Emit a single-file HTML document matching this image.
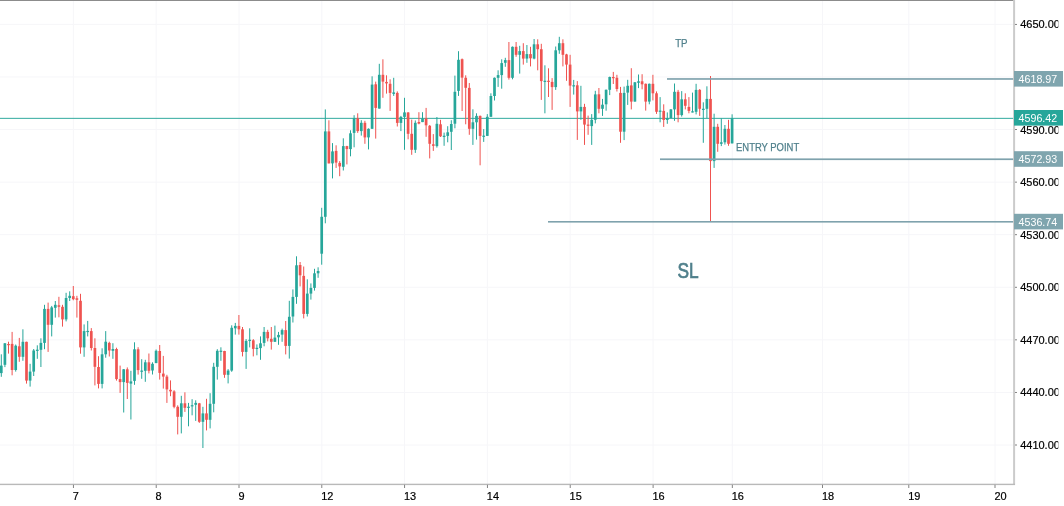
<!DOCTYPE html>
<html><head><meta charset="utf-8"><title>Chart</title>
<style>
html,body{margin:0;padding:0;background:#fff;}
body{width:1064px;height:506px;overflow:hidden;font-family:"Liberation Sans",sans-serif;}
svg{display:block;}
text{font-family:"Liberation Sans",sans-serif;}
</style></head><body>
<svg width="1064" height="506" viewBox="0 0 1064 506">
<defs><clipPath id="axclip"><rect x="1014" y="0" width="44.3" height="506"/></clipPath></defs>
<rect x="0" y="0" width="1064" height="506" fill="#ffffff"/>
<g stroke="#f6f6f9" stroke-width="1">
<line x1="0" x2="1013" y1="24.40" y2="24.40"/>
<line x1="0" x2="1013" y1="76.97" y2="76.97"/>
<line x1="0" x2="1013" y1="129.55" y2="129.55"/>
<line x1="0" x2="1013" y1="182.13" y2="182.13"/>
<line x1="0" x2="1013" y1="234.70" y2="234.70"/>
<line x1="0" x2="1013" y1="287.27" y2="287.27"/>
<line x1="0" x2="1013" y1="339.85" y2="339.85"/>
<line x1="0" x2="1013" y1="392.43" y2="392.43"/>
<line x1="0" x2="1013" y1="445.00" y2="445.00"/>
<line x1="73.40" x2="73.40" y1="1" y2="484"/>
<line x1="156.20" x2="156.20" y1="1" y2="484"/>
<line x1="239.00" x2="239.00" y1="1" y2="484"/>
<line x1="321.80" x2="321.80" y1="1" y2="484"/>
<line x1="404.60" x2="404.60" y1="1" y2="484"/>
<line x1="487.40" x2="487.40" y1="1" y2="484"/>
<line x1="570.20" x2="570.20" y1="1" y2="484"/>
<line x1="653.10" x2="653.10" y1="1" y2="484"/>
<line x1="732.30" x2="732.30" y1="1" y2="484"/>
<line x1="822.50" x2="822.50" y1="1" y2="484"/>
<line x1="908.80" x2="908.80" y1="1" y2="484"/>
<line x1="995.00" x2="995.00" y1="1" y2="484"/>
</g>
<rect x="0" y="117.85" width="1014" height="0.95" fill="#26a69a"/>
<g>
<rect x="0.80" y="354.30" width="1.00" height="22.50" fill="#26a69a"/><rect x="-0.05" y="365.60" width="2.70" height="7.50" fill="#26a69a"/>
<rect x="4.40" y="343.00" width="1.00" height="24.10" fill="#26a69a"/><rect x="3.55" y="343.30" width="2.70" height="21.50" fill="#26a69a"/>
<rect x="8.00" y="341.70" width="1.00" height="11.90" fill="#ef5350"/><rect x="7.15" y="344.00" width="2.70" height="1.20" fill="#ef5350"/>
<rect x="11.60" y="331.90" width="1.00" height="43.40" fill="#ef5350"/><rect x="10.75" y="343.90" width="2.70" height="26.10" fill="#ef5350"/>
<rect x="15.20" y="344.50" width="1.00" height="27.10" fill="#26a69a"/><rect x="14.35" y="345.70" width="2.70" height="24.30" fill="#26a69a"/>
<rect x="18.80" y="337.90" width="1.00" height="23.90" fill="#ef5350"/><rect x="17.95" y="346.30" width="2.70" height="10.50" fill="#ef5350"/>
<rect x="22.40" y="329.30" width="1.00" height="31.50" fill="#26a69a"/><rect x="21.55" y="341.80" width="2.70" height="15.00" fill="#26a69a"/>
<rect x="26.00" y="341.70" width="1.00" height="41.90" fill="#ef5350"/><rect x="25.15" y="341.80" width="2.70" height="38.80" fill="#ef5350"/>
<rect x="29.60" y="363.80" width="1.00" height="22.80" fill="#26a69a"/><rect x="28.75" y="371.60" width="2.70" height="9.00" fill="#26a69a"/>
<rect x="33.20" y="349.00" width="1.00" height="27.00" fill="#26a69a"/><rect x="32.35" y="350.50" width="2.70" height="21.10" fill="#26a69a"/>
<rect x="36.80" y="345.30" width="1.00" height="13.50" fill="#26a69a"/><rect x="35.95" y="349.70" width="2.70" height="1.20" fill="#26a69a"/>
<rect x="40.40" y="338.30" width="1.00" height="28.70" fill="#26a69a"/><rect x="39.55" y="342.90" width="2.70" height="6.90" fill="#26a69a"/>
<rect x="44.00" y="304.80" width="1.00" height="44.40" fill="#26a69a"/><rect x="43.15" y="308.90" width="2.70" height="34.00" fill="#26a69a"/>
<rect x="47.60" y="302.60" width="1.00" height="49.30" fill="#ef5350"/><rect x="46.75" y="308.90" width="2.70" height="15.90" fill="#ef5350"/>
<rect x="51.20" y="305.90" width="1.00" height="30.50" fill="#26a69a"/><rect x="50.35" y="307.40" width="2.70" height="17.40" fill="#26a69a"/>
<rect x="54.80" y="301.00" width="1.00" height="16.60" fill="#26a69a"/><rect x="53.95" y="304.80" width="2.70" height="3.00" fill="#26a69a"/>
<rect x="58.40" y="296.80" width="1.00" height="20.50" fill="#ef5350"/><rect x="57.55" y="305.30" width="2.70" height="1.50" fill="#ef5350"/>
<rect x="62.00" y="304.80" width="1.00" height="21.80" fill="#ef5350"/><rect x="61.15" y="306.80" width="2.70" height="12.60" fill="#ef5350"/>
<rect x="65.60" y="292.80" width="1.00" height="28.60" fill="#26a69a"/><rect x="64.75" y="298.00" width="2.70" height="21.40" fill="#26a69a"/>
<rect x="69.20" y="291.30" width="1.00" height="9.70" fill="#26a69a"/><rect x="68.35" y="295.80" width="2.70" height="2.20" fill="#26a69a"/>
<rect x="72.80" y="286.00" width="1.00" height="14.30" fill="#ef5350"/><rect x="71.95" y="296.20" width="2.70" height="3.00" fill="#ef5350"/>
<rect x="76.40" y="295.80" width="1.00" height="21.80" fill="#ef5350"/><rect x="75.55" y="298.30" width="2.70" height="1.50" fill="#ef5350"/>
<rect x="80.00" y="293.80" width="1.00" height="59.90" fill="#ef5350"/><rect x="79.15" y="300.80" width="2.70" height="46.60" fill="#ef5350"/>
<rect x="83.60" y="324.40" width="1.00" height="32.40" fill="#26a69a"/><rect x="82.75" y="331.10" width="2.70" height="16.30" fill="#26a69a"/>
<rect x="87.20" y="320.90" width="1.00" height="15.50" fill="#26a69a"/><rect x="86.35" y="330.90" width="2.70" height="1.20" fill="#26a69a"/>
<rect x="90.80" y="328.10" width="1.00" height="22.40" fill="#ef5350"/><rect x="89.95" y="331.10" width="2.70" height="16.90" fill="#ef5350"/>
<rect x="94.40" y="338.30" width="1.00" height="47.10" fill="#ef5350"/><rect x="93.55" y="348.00" width="2.70" height="18.80" fill="#ef5350"/>
<rect x="98.00" y="356.20" width="1.00" height="32.20" fill="#ef5350"/><rect x="97.15" y="367.00" width="2.70" height="16.90" fill="#ef5350"/>
<rect x="101.60" y="348.30" width="1.00" height="40.10" fill="#26a69a"/><rect x="100.75" y="354.30" width="2.70" height="29.60" fill="#26a69a"/>
<rect x="105.20" y="331.10" width="1.00" height="26.60" fill="#26a69a"/><rect x="104.35" y="341.70" width="2.70" height="12.60" fill="#26a69a"/>
<rect x="108.80" y="341.70" width="1.00" height="14.80" fill="#ef5350"/><rect x="107.95" y="342.90" width="2.70" height="7.60" fill="#ef5350"/>
<rect x="112.40" y="343.20" width="1.00" height="15.60" fill="#26a69a"/><rect x="111.55" y="349.00" width="2.70" height="1.80" fill="#26a69a"/>
<rect x="116.00" y="347.70" width="1.00" height="32.90" fill="#ef5350"/><rect x="115.15" y="349.00" width="2.70" height="30.10" fill="#ef5350"/>
<rect x="119.60" y="365.60" width="1.00" height="27.30" fill="#ef5350"/><rect x="118.75" y="379.10" width="2.70" height="3.00" fill="#ef5350"/>
<rect x="123.20" y="369.00" width="1.00" height="43.50" fill="#26a69a"/><rect x="122.35" y="369.30" width="2.70" height="12.80" fill="#26a69a"/>
<rect x="126.80" y="367.40" width="1.00" height="31.60" fill="#ef5350"/><rect x="125.95" y="369.30" width="2.70" height="13.60" fill="#ef5350"/>
<rect x="130.40" y="370.80" width="1.00" height="48.70" fill="#26a69a"/><rect x="129.55" y="381.40" width="2.70" height="2.20" fill="#26a69a"/>
<rect x="134.00" y="342.30" width="1.00" height="42.50" fill="#26a69a"/><rect x="133.15" y="349.30" width="2.70" height="31.60" fill="#26a69a"/>
<rect x="137.60" y="347.20" width="1.00" height="27.40" fill="#ef5350"/><rect x="136.75" y="349.30" width="2.70" height="20.80" fill="#ef5350"/>
<rect x="141.20" y="359.20" width="1.00" height="19.60" fill="#26a69a"/><rect x="140.35" y="370.60" width="2.70" height="1.20" fill="#26a69a"/>
<rect x="144.80" y="359.80" width="1.00" height="22.00" fill="#26a69a"/><rect x="143.95" y="362.30" width="2.70" height="8.50" fill="#26a69a"/>
<rect x="148.40" y="353.50" width="1.00" height="19.90" fill="#ef5350"/><rect x="147.55" y="362.30" width="2.70" height="8.50" fill="#ef5350"/>
<rect x="152.00" y="362.30" width="1.00" height="12.20" fill="#26a69a"/><rect x="151.15" y="363.80" width="2.70" height="6.70" fill="#26a69a"/>
<rect x="155.60" y="349.50" width="1.00" height="13.60" fill="#26a69a"/><rect x="154.75" y="350.80" width="2.70" height="12.30" fill="#26a69a"/>
<rect x="159.20" y="345.00" width="1.00" height="34.60" fill="#ef5350"/><rect x="158.35" y="351.00" width="2.70" height="21.90" fill="#ef5350"/>
<rect x="162.80" y="355.90" width="1.00" height="32.70" fill="#ef5350"/><rect x="161.95" y="373.60" width="2.70" height="3.00" fill="#ef5350"/>
<rect x="166.40" y="374.80" width="1.00" height="28.10" fill="#ef5350"/><rect x="165.55" y="376.60" width="2.70" height="12.80" fill="#ef5350"/>
<rect x="170.00" y="380.40" width="1.00" height="15.80" fill="#ef5350"/><rect x="169.15" y="389.80" width="2.70" height="1.60" fill="#ef5350"/>
<rect x="173.60" y="390.20" width="1.00" height="18.10" fill="#ef5350"/><rect x="172.75" y="391.40" width="2.70" height="15.40" fill="#ef5350"/>
<rect x="177.20" y="405.30" width="1.00" height="29.10" fill="#ef5350"/><rect x="176.35" y="406.80" width="2.70" height="10.00" fill="#ef5350"/>
<rect x="180.80" y="395.80" width="1.00" height="37.60" fill="#26a69a"/><rect x="179.95" y="403.30" width="2.70" height="13.50" fill="#26a69a"/>
<rect x="184.40" y="392.30" width="1.00" height="19.60" fill="#ef5350"/><rect x="183.55" y="403.30" width="2.70" height="4.50" fill="#ef5350"/>
<rect x="188.00" y="402.90" width="1.00" height="23.40" fill="#26a69a"/><rect x="187.15" y="406.70" width="2.70" height="1.20" fill="#26a69a"/>
<rect x="191.60" y="399.20" width="1.00" height="16.10" fill="#26a69a"/><rect x="190.75" y="405.20" width="2.70" height="1.20" fill="#26a69a"/>
<rect x="195.20" y="400.30" width="1.00" height="20.60" fill="#26a69a"/><rect x="194.35" y="402.90" width="2.70" height="1.90" fill="#26a69a"/>
<rect x="198.80" y="402.90" width="1.00" height="20.00" fill="#ef5350"/><rect x="197.95" y="403.30" width="2.70" height="18.50" fill="#ef5350"/>
<rect x="202.40" y="406.80" width="1.00" height="41.20" fill="#26a69a"/><rect x="201.55" y="413.40" width="2.70" height="8.40" fill="#26a69a"/>
<rect x="206.00" y="398.80" width="1.00" height="31.60" fill="#ef5350"/><rect x="205.15" y="413.40" width="2.70" height="6.40" fill="#ef5350"/>
<rect x="209.60" y="393.20" width="1.00" height="35.20" fill="#26a69a"/><rect x="208.75" y="403.80" width="2.70" height="16.00" fill="#26a69a"/>
<rect x="213.20" y="362.80" width="1.00" height="49.50" fill="#26a69a"/><rect x="212.35" y="366.80" width="2.70" height="37.00" fill="#26a69a"/>
<rect x="216.80" y="349.20" width="1.00" height="30.40" fill="#26a69a"/><rect x="215.95" y="350.80" width="2.70" height="16.00" fill="#26a69a"/>
<rect x="220.40" y="347.30" width="1.00" height="13.50" fill="#26a69a"/><rect x="219.55" y="350.70" width="2.70" height="1.20" fill="#26a69a"/>
<rect x="224.00" y="350.80" width="1.00" height="27.00" fill="#ef5350"/><rect x="223.15" y="351.00" width="2.70" height="23.80" fill="#ef5350"/>
<rect x="227.60" y="369.10" width="1.00" height="14.30" fill="#26a69a"/><rect x="226.75" y="370.60" width="2.70" height="4.20" fill="#26a69a"/>
<rect x="231.20" y="325.30" width="1.00" height="46.50" fill="#26a69a"/><rect x="230.35" y="327.80" width="2.70" height="42.80" fill="#26a69a"/>
<rect x="234.80" y="322.90" width="1.00" height="11.70" fill="#26a69a"/><rect x="233.95" y="325.90" width="2.70" height="2.40" fill="#26a69a"/>
<rect x="238.40" y="315.00" width="1.00" height="19.60" fill="#ef5350"/><rect x="237.55" y="325.90" width="2.70" height="3.40" fill="#ef5350"/>
<rect x="242.00" y="327.00" width="1.00" height="29.40" fill="#ef5350"/><rect x="241.15" y="329.30" width="2.70" height="22.60" fill="#ef5350"/>
<rect x="245.60" y="339.10" width="1.00" height="29.80" fill="#26a69a"/><rect x="244.75" y="340.90" width="2.70" height="11.00" fill="#26a69a"/>
<rect x="249.20" y="328.30" width="1.00" height="19.10" fill="#26a69a"/><rect x="248.35" y="339.75" width="2.70" height="1.20" fill="#26a69a"/>
<rect x="252.80" y="339.10" width="1.00" height="17.30" fill="#ef5350"/><rect x="251.95" y="340.30" width="2.70" height="8.60" fill="#ef5350"/>
<rect x="256.40" y="344.40" width="1.00" height="10.90" fill="#26a69a"/><rect x="255.55" y="347.80" width="2.70" height="1.20" fill="#26a69a"/>
<rect x="260.00" y="336.40" width="1.00" height="23.40" fill="#26a69a"/><rect x="259.15" y="343.30" width="2.70" height="4.80" fill="#26a69a"/>
<rect x="263.60" y="327.00" width="1.00" height="19.30" fill="#26a69a"/><rect x="262.75" y="331.90" width="2.70" height="11.00" fill="#26a69a"/>
<rect x="267.20" y="329.80" width="1.00" height="11.60" fill="#ef5350"/><rect x="266.35" y="331.90" width="2.70" height="6.40" fill="#ef5350"/>
<rect x="270.80" y="327.00" width="1.00" height="22.60" fill="#ef5350"/><rect x="269.95" y="338.80" width="2.70" height="3.00" fill="#ef5350"/>
<rect x="274.40" y="325.60" width="1.00" height="16.20" fill="#26a69a"/><rect x="273.55" y="337.60" width="2.70" height="4.20" fill="#26a69a"/>
<rect x="278.00" y="331.90" width="1.00" height="12.90" fill="#26a69a"/><rect x="277.15" y="334.90" width="2.70" height="2.40" fill="#26a69a"/>
<rect x="281.60" y="328.60" width="1.00" height="13.20" fill="#26a69a"/><rect x="280.75" y="330.10" width="2.70" height="4.50" fill="#26a69a"/>
<rect x="285.20" y="321.00" width="1.00" height="33.40" fill="#ef5350"/><rect x="284.35" y="330.10" width="2.70" height="15.80" fill="#ef5350"/>
<rect x="288.80" y="300.80" width="1.00" height="57.80" fill="#26a69a"/><rect x="287.95" y="316.80" width="2.70" height="29.10" fill="#26a69a"/>
<rect x="292.40" y="289.40" width="1.00" height="33.10" fill="#26a69a"/><rect x="291.55" y="296.90" width="2.70" height="19.60" fill="#26a69a"/>
<rect x="296.00" y="256.30" width="1.00" height="47.50" fill="#26a69a"/><rect x="295.15" y="265.30" width="2.70" height="31.60" fill="#26a69a"/>
<rect x="299.60" y="262.00" width="1.00" height="24.40" fill="#ef5350"/><rect x="298.75" y="265.00" width="2.70" height="10.30" fill="#ef5350"/>
<rect x="303.20" y="266.50" width="1.00" height="51.90" fill="#ef5350"/><rect x="302.35" y="275.90" width="2.70" height="38.00" fill="#ef5350"/>
<rect x="306.80" y="279.30" width="1.00" height="37.20" fill="#26a69a"/><rect x="305.95" y="293.60" width="2.70" height="20.30" fill="#26a69a"/>
<rect x="310.40" y="283.40" width="1.00" height="16.20" fill="#26a69a"/><rect x="309.55" y="287.90" width="2.70" height="5.70" fill="#26a69a"/>
<rect x="314.00" y="268.80" width="1.00" height="21.80" fill="#26a69a"/><rect x="313.15" y="273.30" width="2.70" height="14.60" fill="#26a69a"/>
<rect x="317.60" y="267.30" width="1.00" height="10.50" fill="#26a69a"/><rect x="316.75" y="271.00" width="2.70" height="2.30" fill="#26a69a"/>
<rect x="321.20" y="207.80" width="1.00" height="56.90" fill="#26a69a"/><rect x="320.35" y="216.80" width="2.70" height="36.90" fill="#26a69a"/>
<rect x="324.80" y="109.40" width="1.00" height="113.90" fill="#26a69a"/><rect x="323.95" y="131.40" width="2.70" height="85.40" fill="#26a69a"/>
<rect x="328.40" y="120.30" width="1.00" height="43.10" fill="#ef5350"/><rect x="327.55" y="131.40" width="2.70" height="32.00" fill="#ef5350"/>
<rect x="332.00" y="143.10" width="1.00" height="35.30" fill="#26a69a"/><rect x="331.15" y="151.40" width="2.70" height="12.00" fill="#26a69a"/>
<rect x="335.60" y="145.30" width="1.00" height="22.60" fill="#ef5350"/><rect x="334.75" y="150.90" width="2.70" height="11.70" fill="#ef5350"/>
<rect x="339.20" y="161.10" width="1.00" height="15.10" fill="#ef5350"/><rect x="338.35" y="162.90" width="2.70" height="3.50" fill="#ef5350"/>
<rect x="342.80" y="138.30" width="1.00" height="32.20" fill="#26a69a"/><rect x="341.95" y="146.10" width="2.70" height="20.70" fill="#26a69a"/>
<rect x="346.40" y="145.80" width="1.00" height="18.60" fill="#ef5350"/><rect x="345.55" y="146.10" width="2.70" height="3.00" fill="#ef5350"/>
<rect x="350.00" y="130.30" width="1.00" height="26.00" fill="#26a69a"/><rect x="349.15" y="133.30" width="2.70" height="15.80" fill="#26a69a"/>
<rect x="353.60" y="115.20" width="1.00" height="32.10" fill="#26a69a"/><rect x="352.75" y="118.30" width="2.70" height="14.60" fill="#26a69a"/>
<rect x="357.20" y="113.30" width="1.00" height="19.60" fill="#ef5350"/><rect x="356.35" y="118.30" width="2.70" height="12.80" fill="#ef5350"/>
<rect x="360.80" y="120.20" width="1.00" height="15.40" fill="#26a69a"/><rect x="359.95" y="122.80" width="2.70" height="8.30" fill="#26a69a"/>
<rect x="364.40" y="120.80" width="1.00" height="23.00" fill="#ef5350"/><rect x="363.55" y="122.80" width="2.70" height="14.60" fill="#ef5350"/>
<rect x="368.00" y="128.40" width="1.00" height="21.00" fill="#26a69a"/><rect x="367.15" y="128.80" width="2.70" height="8.60" fill="#26a69a"/>
<rect x="371.60" y="76.30" width="1.00" height="52.50" fill="#26a69a"/><rect x="370.75" y="84.60" width="2.70" height="44.20" fill="#26a69a"/>
<rect x="375.20" y="81.60" width="1.00" height="57.00" fill="#ef5350"/><rect x="374.35" y="84.30" width="2.70" height="23.60" fill="#ef5350"/>
<rect x="378.80" y="63.80" width="1.00" height="44.80" fill="#26a69a"/><rect x="377.95" y="74.80" width="2.70" height="33.80" fill="#26a69a"/>
<rect x="382.40" y="59.30" width="1.00" height="38.50" fill="#ef5350"/><rect x="381.55" y="74.80" width="2.70" height="6.80" fill="#ef5350"/>
<rect x="386.00" y="75.30" width="1.00" height="18.30" fill="#ef5350"/><rect x="385.15" y="81.90" width="2.70" height="1.50" fill="#ef5350"/>
<rect x="389.60" y="79.30" width="1.00" height="31.60" fill="#ef5350"/><rect x="388.75" y="83.80" width="2.70" height="9.10" fill="#ef5350"/>
<rect x="393.20" y="77.80" width="1.00" height="18.10" fill="#26a69a"/><rect x="392.35" y="92.40" width="2.70" height="1.50" fill="#26a69a"/>
<rect x="396.80" y="91.40" width="1.00" height="35.10" fill="#ef5350"/><rect x="395.95" y="92.90" width="2.70" height="30.00" fill="#ef5350"/>
<rect x="400.40" y="115.90" width="1.00" height="15.20" fill="#26a69a"/><rect x="399.55" y="116.90" width="2.70" height="6.00" fill="#26a69a"/>
<rect x="404.00" y="97.80" width="1.00" height="52.00" fill="#26a69a"/><rect x="403.15" y="112.40" width="2.70" height="4.50" fill="#26a69a"/>
<rect x="407.60" y="112.00" width="1.00" height="27.30" fill="#ef5350"/><rect x="406.75" y="112.50" width="2.70" height="21.30" fill="#ef5350"/>
<rect x="411.20" y="119.60" width="1.00" height="35.20" fill="#ef5350"/><rect x="410.35" y="133.80" width="2.70" height="16.00" fill="#ef5350"/>
<rect x="414.80" y="120.40" width="1.00" height="32.50" fill="#26a69a"/><rect x="413.95" y="122.80" width="2.70" height="27.00" fill="#26a69a"/>
<rect x="418.40" y="112.20" width="1.00" height="12.10" fill="#ef5350"/><rect x="417.55" y="122.00" width="2.70" height="1.60" fill="#ef5350"/>
<rect x="422.00" y="112.20" width="1.00" height="9.90" fill="#26a69a"/><rect x="421.15" y="118.60" width="2.70" height="3.50" fill="#26a69a"/>
<rect x="425.60" y="107.90" width="1.00" height="28.90" fill="#ef5350"/><rect x="424.75" y="118.40" width="2.70" height="6.90" fill="#ef5350"/>
<rect x="429.20" y="125.00" width="1.00" height="33.40" fill="#ef5350"/><rect x="428.35" y="125.80" width="2.70" height="18.00" fill="#ef5350"/>
<rect x="432.80" y="134.10" width="1.00" height="16.80" fill="#ef5350"/><rect x="431.95" y="144.30" width="2.70" height="1.50" fill="#ef5350"/>
<rect x="436.40" y="117.00" width="1.00" height="30.60" fill="#26a69a"/><rect x="435.55" y="123.80" width="2.70" height="22.30" fill="#26a69a"/>
<rect x="440.00" y="119.80" width="1.00" height="17.20" fill="#ef5350"/><rect x="439.15" y="124.30" width="2.70" height="12.00" fill="#ef5350"/>
<rect x="443.60" y="132.60" width="1.00" height="13.20" fill="#26a69a"/><rect x="442.75" y="135.75" width="2.70" height="1.20" fill="#26a69a"/>
<rect x="447.20" y="126.20" width="1.00" height="16.10" fill="#26a69a"/><rect x="446.35" y="132.30" width="2.70" height="3.60" fill="#26a69a"/>
<rect x="450.80" y="120.20" width="1.00" height="29.80" fill="#26a69a"/><rect x="449.95" y="124.00" width="2.70" height="7.80" fill="#26a69a"/>
<rect x="454.40" y="75.60" width="1.00" height="52.70" fill="#26a69a"/><rect x="453.55" y="91.80" width="2.70" height="31.90" fill="#26a69a"/>
<rect x="458.00" y="51.20" width="1.00" height="44.70" fill="#26a69a"/><rect x="457.15" y="59.80" width="2.70" height="31.10" fill="#26a69a"/>
<rect x="461.60" y="58.50" width="1.00" height="52.50" fill="#ef5350"/><rect x="460.75" y="59.20" width="2.70" height="18.40" fill="#ef5350"/>
<rect x="465.20" y="75.30" width="1.00" height="49.00" fill="#ef5350"/><rect x="464.35" y="77.80" width="2.70" height="10.00" fill="#ef5350"/>
<rect x="468.80" y="83.00" width="1.00" height="51.80" fill="#ef5350"/><rect x="467.95" y="87.90" width="2.70" height="40.90" fill="#ef5350"/>
<rect x="472.40" y="109.30" width="1.00" height="35.60" fill="#26a69a"/><rect x="471.55" y="122.30" width="2.70" height="6.50" fill="#26a69a"/>
<rect x="476.00" y="113.30" width="1.00" height="26.30" fill="#26a69a"/><rect x="475.15" y="115.90" width="2.70" height="6.40" fill="#26a69a"/>
<rect x="479.60" y="115.50" width="1.00" height="49.80" fill="#ef5350"/><rect x="478.75" y="115.90" width="2.70" height="20.00" fill="#ef5350"/>
<rect x="483.20" y="129.10" width="1.00" height="12.80" fill="#26a69a"/><rect x="482.35" y="135.65" width="2.70" height="1.20" fill="#26a69a"/>
<rect x="486.80" y="114.10" width="1.00" height="21.80" fill="#26a69a"/><rect x="485.95" y="116.80" width="2.70" height="19.10" fill="#26a69a"/>
<rect x="490.40" y="93.30" width="1.00" height="23.50" fill="#26a69a"/><rect x="489.55" y="96.00" width="2.70" height="20.80" fill="#26a69a"/>
<rect x="494.00" y="77.50" width="1.00" height="23.00" fill="#26a69a"/><rect x="493.15" y="77.80" width="2.70" height="18.20" fill="#26a69a"/>
<rect x="497.60" y="70.30" width="1.00" height="16.60" fill="#26a69a"/><rect x="496.75" y="75.10" width="2.70" height="2.70" fill="#26a69a"/>
<rect x="501.20" y="59.30" width="1.00" height="29.40" fill="#26a69a"/><rect x="500.35" y="63.10" width="2.70" height="12.00" fill="#26a69a"/>
<rect x="504.80" y="57.80" width="1.00" height="9.00" fill="#26a69a"/><rect x="503.95" y="60.10" width="2.70" height="2.70" fill="#26a69a"/>
<rect x="508.40" y="42.00" width="1.00" height="37.60" fill="#ef5350"/><rect x="507.55" y="60.10" width="2.70" height="17.70" fill="#ef5350"/>
<rect x="512.00" y="46.50" width="1.00" height="32.80" fill="#26a69a"/><rect x="511.15" y="46.80" width="2.70" height="31.00" fill="#26a69a"/>
<rect x="515.60" y="42.00" width="1.00" height="14.80" fill="#ef5350"/><rect x="514.75" y="46.80" width="2.70" height="8.00" fill="#ef5350"/>
<rect x="519.20" y="45.80" width="1.00" height="27.80" fill="#26a69a"/><rect x="518.35" y="51.10" width="2.70" height="3.70" fill="#26a69a"/>
<rect x="522.80" y="43.20" width="1.00" height="21.40" fill="#ef5350"/><rect x="521.95" y="51.10" width="2.70" height="7.50" fill="#ef5350"/>
<rect x="526.40" y="45.00" width="1.00" height="17.80" fill="#26a69a"/><rect x="525.55" y="54.10" width="2.70" height="4.50" fill="#26a69a"/>
<rect x="530.00" y="46.80" width="1.00" height="19.60" fill="#ef5350"/><rect x="529.15" y="54.10" width="2.70" height="4.20" fill="#ef5350"/>
<rect x="533.60" y="39.00" width="1.00" height="20.30" fill="#26a69a"/><rect x="532.75" y="44.30" width="2.70" height="14.30" fill="#26a69a"/>
<rect x="537.20" y="39.30" width="1.00" height="31.00" fill="#ef5350"/><rect x="536.35" y="44.30" width="2.70" height="4.90" fill="#ef5350"/>
<rect x="540.80" y="43.80" width="1.00" height="56.10" fill="#ef5350"/><rect x="539.95" y="49.20" width="2.70" height="31.90" fill="#ef5350"/>
<rect x="544.40" y="65.30" width="1.00" height="48.00" fill="#26a69a"/><rect x="543.55" y="80.75" width="2.70" height="1.20" fill="#26a69a"/>
<rect x="548.00" y="68.30" width="1.00" height="28.70" fill="#ef5350"/><rect x="547.15" y="80.75" width="2.70" height="1.20" fill="#ef5350"/>
<rect x="551.60" y="78.10" width="1.00" height="31.80" fill="#ef5350"/><rect x="550.75" y="81.90" width="2.70" height="5.20" fill="#ef5350"/>
<rect x="555.20" y="46.50" width="1.00" height="43.40" fill="#26a69a"/><rect x="554.35" y="50.30" width="2.70" height="36.80" fill="#26a69a"/>
<rect x="558.80" y="36.80" width="1.00" height="17.00" fill="#26a69a"/><rect x="557.95" y="43.20" width="2.70" height="7.10" fill="#26a69a"/>
<rect x="562.40" y="39.30" width="1.00" height="27.10" fill="#ef5350"/><rect x="561.55" y="43.20" width="2.70" height="11.60" fill="#ef5350"/>
<rect x="566.00" y="53.80" width="1.00" height="27.00" fill="#ef5350"/><rect x="565.15" y="54.40" width="2.70" height="10.20" fill="#ef5350"/>
<rect x="569.60" y="54.80" width="1.00" height="52.10" fill="#ef5350"/><rect x="568.75" y="64.60" width="2.70" height="21.00" fill="#ef5350"/>
<rect x="573.20" y="79.90" width="1.00" height="14.70" fill="#26a69a"/><rect x="572.35" y="85.25" width="2.70" height="1.20" fill="#26a69a"/>
<rect x="576.80" y="81.10" width="1.00" height="58.80" fill="#ef5350"/><rect x="575.95" y="85.30" width="2.70" height="26.10" fill="#ef5350"/>
<rect x="580.40" y="85.80" width="1.00" height="34.00" fill="#26a69a"/><rect x="579.55" y="106.90" width="2.70" height="4.50" fill="#26a69a"/>
<rect x="584.00" y="103.80" width="1.00" height="41.10" fill="#ef5350"/><rect x="583.15" y="106.90" width="2.70" height="17.70" fill="#ef5350"/>
<rect x="587.60" y="115.60" width="1.00" height="19.20" fill="#ef5350"/><rect x="586.75" y="124.60" width="2.70" height="1.20" fill="#ef5350"/>
<rect x="591.20" y="114.10" width="1.00" height="30.80" fill="#26a69a"/><rect x="590.35" y="119.80" width="2.70" height="6.30" fill="#26a69a"/>
<rect x="594.80" y="90.80" width="1.00" height="32.60" fill="#26a69a"/><rect x="593.95" y="94.40" width="2.70" height="25.40" fill="#26a69a"/>
<rect x="598.40" y="88.00" width="1.00" height="25.30" fill="#ef5350"/><rect x="597.55" y="94.30" width="2.70" height="14.50" fill="#ef5350"/>
<rect x="602.00" y="98.90" width="1.00" height="17.00" fill="#26a69a"/><rect x="601.15" y="104.70" width="2.70" height="4.10" fill="#26a69a"/>
<rect x="605.60" y="89.50" width="1.00" height="21.20" fill="#26a69a"/><rect x="604.75" y="89.80" width="2.70" height="14.50" fill="#26a69a"/>
<rect x="609.20" y="76.60" width="1.00" height="18.50" fill="#26a69a"/><rect x="608.35" y="77.00" width="2.70" height="12.80" fill="#26a69a"/>
<rect x="612.80" y="71.90" width="1.00" height="12.10" fill="#ef5350"/><rect x="611.95" y="77.00" width="2.70" height="1.20" fill="#ef5350"/>
<rect x="616.40" y="74.80" width="1.00" height="16.70" fill="#ef5350"/><rect x="615.55" y="77.80" width="2.70" height="11.20" fill="#ef5350"/>
<rect x="620.00" y="86.90" width="1.00" height="55.90" fill="#ef5350"/><rect x="619.15" y="92.90" width="2.70" height="38.80" fill="#ef5350"/>
<rect x="623.60" y="86.60" width="1.00" height="53.50" fill="#26a69a"/><rect x="622.75" y="92.90" width="2.70" height="38.80" fill="#26a69a"/>
<rect x="627.20" y="79.80" width="1.00" height="25.10" fill="#26a69a"/><rect x="626.35" y="85.80" width="2.70" height="6.80" fill="#26a69a"/>
<rect x="630.80" y="68.20" width="1.00" height="41.20" fill="#ef5350"/><rect x="629.95" y="85.40" width="2.70" height="16.20" fill="#ef5350"/>
<rect x="634.40" y="82.00" width="1.00" height="19.60" fill="#26a69a"/><rect x="633.55" y="82.30" width="2.70" height="19.30" fill="#26a69a"/>
<rect x="638.00" y="74.50" width="1.00" height="13.60" fill="#26a69a"/><rect x="637.15" y="81.30" width="2.70" height="1.50" fill="#26a69a"/>
<rect x="641.60" y="74.20" width="1.00" height="15.10" fill="#ef5350"/><rect x="640.75" y="81.30" width="2.70" height="3.00" fill="#ef5350"/>
<rect x="645.20" y="83.50" width="1.00" height="27.10" fill="#ef5350"/><rect x="644.35" y="83.80" width="2.70" height="17.80" fill="#ef5350"/>
<rect x="648.80" y="83.50" width="1.00" height="20.80" fill="#26a69a"/><rect x="647.95" y="83.80" width="2.70" height="17.80" fill="#26a69a"/>
<rect x="652.40" y="74.80" width="1.00" height="25.60" fill="#ef5350"/><rect x="651.55" y="83.80" width="2.70" height="9.50" fill="#ef5350"/>
<rect x="656.00" y="91.40" width="1.00" height="22.50" fill="#ef5350"/><rect x="655.15" y="93.30" width="2.70" height="18.50" fill="#ef5350"/>
<rect x="659.60" y="97.10" width="1.00" height="25.20" fill="#26a69a"/><rect x="658.75" y="110.60" width="2.70" height="1.20" fill="#26a69a"/>
<rect x="663.20" y="104.30" width="1.00" height="22.60" fill="#ef5350"/><rect x="662.35" y="110.90" width="2.70" height="9.00" fill="#ef5350"/>
<rect x="666.80" y="112.40" width="1.00" height="11.40" fill="#26a69a"/><rect x="665.95" y="118.10" width="2.70" height="1.80" fill="#26a69a"/>
<rect x="670.40" y="109.00" width="1.00" height="9.10" fill="#26a69a"/><rect x="669.55" y="109.40" width="2.70" height="8.70" fill="#26a69a"/>
<rect x="674.00" y="83.50" width="1.00" height="37.30" fill="#26a69a"/><rect x="673.15" y="91.80" width="2.70" height="17.60" fill="#26a69a"/>
<rect x="677.60" y="89.90" width="1.00" height="32.40" fill="#ef5350"/><rect x="676.75" y="91.80" width="2.70" height="23.30" fill="#ef5350"/>
<rect x="681.20" y="91.10" width="1.00" height="25.50" fill="#26a69a"/><rect x="680.35" y="99.30" width="2.70" height="15.80" fill="#26a69a"/>
<rect x="684.80" y="93.30" width="1.00" height="16.10" fill="#ef5350"/><rect x="683.95" y="99.30" width="2.70" height="6.50" fill="#ef5350"/>
<rect x="688.40" y="97.10" width="1.00" height="16.20" fill="#ef5350"/><rect x="687.55" y="106.90" width="2.70" height="4.00" fill="#ef5350"/>
<rect x="692.00" y="92.60" width="1.00" height="19.80" fill="#26a69a"/><rect x="691.15" y="111.30" width="2.70" height="1.20" fill="#26a69a"/>
<rect x="695.60" y="83.80" width="1.00" height="30.60" fill="#26a69a"/><rect x="694.75" y="89.90" width="2.70" height="21.90" fill="#26a69a"/>
<rect x="699.20" y="89.00" width="1.00" height="26.90" fill="#ef5350"/><rect x="698.35" y="89.90" width="2.70" height="18.90" fill="#ef5350"/>
<rect x="702.80" y="102.30" width="1.00" height="40.50" fill="#26a69a"/><rect x="701.95" y="108.75" width="2.70" height="1.20" fill="#26a69a"/>
<rect x="706.40" y="86.30" width="1.00" height="31.80" fill="#26a69a"/><rect x="705.55" y="98.90" width="2.70" height="9.90" fill="#26a69a"/>
<rect x="710.00" y="76.00" width="1.00" height="145.70" fill="#ef5350"/><rect x="709.15" y="98.90" width="2.70" height="62.20" fill="#ef5350"/>
<rect x="713.60" y="113.70" width="1.00" height="54.20" fill="#26a69a"/><rect x="712.75" y="126.80" width="2.70" height="34.30" fill="#26a69a"/>
<rect x="717.20" y="123.80" width="1.00" height="28.00" fill="#ef5350"/><rect x="716.35" y="126.80" width="2.70" height="17.00" fill="#ef5350"/>
<rect x="720.80" y="118.30" width="1.00" height="27.80" fill="#26a69a"/><rect x="719.95" y="142.30" width="2.70" height="1.50" fill="#26a69a"/>
<rect x="724.40" y="125.00" width="1.00" height="19.60" fill="#26a69a"/><rect x="723.55" y="128.80" width="2.70" height="13.50" fill="#26a69a"/>
<rect x="728.00" y="119.80" width="1.00" height="26.00" fill="#ef5350"/><rect x="727.15" y="128.80" width="2.70" height="15.00" fill="#ef5350"/>
<rect x="731.60" y="114.30" width="1.00" height="29.10" fill="#26a69a"/><rect x="730.75" y="118.30" width="2.70" height="25.10" fill="#26a69a"/>
</g>
<rect x="667" y="78.15" width="347" height="1.65" fill="#7fa2ad"/>
<rect x="660" y="158.4" width="354" height="1.7" fill="#7fa2ad"/>
<rect x="548" y="221.0" width="466" height="1.6" fill="#7fa2ad"/>
<text x="675.2" y="47.2" font-size="11.5" fill="#50808c" stroke="#50808c" stroke-width="0.25" textLength="12.4" lengthAdjust="spacingAndGlyphs">TP</text>
<text x="736" y="151" font-size="11.5" fill="#50808c" stroke="#50808c" stroke-width="0.25" textLength="63.2" lengthAdjust="spacingAndGlyphs">ENTRY POINT</text>
<text x="677.5" y="277.8" font-size="21.4" fill="#50808c" stroke="#50808c" stroke-width="0.7" textLength="21.2" lengthAdjust="spacingAndGlyphs">SL</text>
<rect x="0" y="0" width="1015" height="1" fill="#8c8c8c"/>
<rect x="1013.1" y="0" width="2" height="485" fill="#cbcbcb"/>
<rect x="0" y="483.7" width="1015" height="1.4" fill="#b9b9b9"/>
<g fill="#000" stroke="#000" stroke-width="0.2" font-size="11.5" clip-path="url(#axclip)">
<text x="1020.2" y="28.40" textLength="39.7" lengthAdjust="spacingAndGlyphs">4650.00</text>
<text x="1020.2" y="80.97" textLength="39.7" lengthAdjust="spacingAndGlyphs">4620.00</text>
<text x="1020.2" y="133.55" textLength="39.7" lengthAdjust="spacingAndGlyphs">4590.00</text>
<text x="1020.2" y="186.13" textLength="39.7" lengthAdjust="spacingAndGlyphs">4560.00</text>
<text x="1020.2" y="238.70" textLength="39.7" lengthAdjust="spacingAndGlyphs">4530.00</text>
<text x="1020.2" y="291.27" textLength="39.7" lengthAdjust="spacingAndGlyphs">4500.00</text>
<text x="1020.2" y="343.85" textLength="39.7" lengthAdjust="spacingAndGlyphs">4470.00</text>
<text x="1020.2" y="396.43" textLength="39.7" lengthAdjust="spacingAndGlyphs">4440.00</text>
<text x="1020.2" y="449.00" textLength="39.7" lengthAdjust="spacingAndGlyphs">4410.00</text>
</g>
<g fill="#777">
<rect x="1015" y="23.95" width="2" height="0.9"/>
<rect x="1015" y="76.52" width="2" height="0.9"/>
<rect x="1015" y="129.10" width="2" height="0.9"/>
<rect x="1015" y="181.68" width="2" height="0.9"/>
<rect x="1015" y="234.25" width="2" height="0.9"/>
<rect x="1015" y="286.82" width="2" height="0.9"/>
<rect x="1015" y="339.40" width="2" height="0.9"/>
<rect x="1015" y="391.98" width="2" height="0.9"/>
<rect x="1015" y="444.55" width="2" height="0.9"/>
<rect x="72.95" y="484.8" width="0.9" height="3.2"/>
<rect x="155.75" y="484.8" width="0.9" height="3.2"/>
<rect x="238.55" y="484.8" width="0.9" height="3.2"/>
<rect x="321.35" y="484.8" width="0.9" height="3.2"/>
<rect x="404.15" y="484.8" width="0.9" height="3.2"/>
<rect x="486.95" y="484.8" width="0.9" height="3.2"/>
<rect x="569.75" y="484.8" width="0.9" height="3.2"/>
<rect x="652.65" y="484.8" width="0.9" height="3.2"/>
<rect x="731.85" y="484.8" width="0.9" height="3.2"/>
<rect x="822.05" y="484.8" width="0.9" height="3.2"/>
<rect x="908.35" y="484.8" width="0.9" height="3.2"/>
<rect x="994.55" y="484.8" width="0.9" height="3.2"/>
</g>
<g fill="#000" stroke="#000" stroke-width="0.2" font-size="11.5">
<text x="72.80" y="499.8" textLength="6.1" lengthAdjust="spacingAndGlyphs">7</text>
<text x="155.60" y="499.8" textLength="6.1" lengthAdjust="spacingAndGlyphs">8</text>
<text x="238.40" y="499.8" textLength="6.1" lengthAdjust="spacingAndGlyphs">9</text>
<text x="321.20" y="499.8" textLength="12.2" lengthAdjust="spacingAndGlyphs">12</text>
<text x="404.00" y="499.8" textLength="12.2" lengthAdjust="spacingAndGlyphs">13</text>
<text x="486.80" y="499.8" textLength="12.2" lengthAdjust="spacingAndGlyphs">14</text>
<text x="569.60" y="499.8" textLength="12.2" lengthAdjust="spacingAndGlyphs">15</text>
<text x="652.50" y="499.8" textLength="12.2" lengthAdjust="spacingAndGlyphs">16</text>
<text x="731.70" y="499.8" textLength="12.2" lengthAdjust="spacingAndGlyphs">16</text>
<text x="821.90" y="499.8" textLength="12.2" lengthAdjust="spacingAndGlyphs">18</text>
<text x="908.20" y="499.8" textLength="12.2" lengthAdjust="spacingAndGlyphs">19</text>
<text x="994.40" y="499.8" textLength="12.2" lengthAdjust="spacingAndGlyphs">20</text>
</g>
<rect x="1014" y="71.00" width="49" height="15.6" fill="#7fa5ae"/>
<text x="1018.6" y="83.10" font-size="11.5" fill="#fff" textLength="38.6" lengthAdjust="spacingAndGlyphs">4618.97</text>
<rect x="1014" y="110.00" width="49" height="15.6" fill="#26a69a"/>
<text x="1018.6" y="122.10" font-size="11.5" fill="#fff" textLength="38.6" lengthAdjust="spacingAndGlyphs">4596.42</text>
<rect x="1014" y="151.20" width="49" height="15.6" fill="#7fa5ae"/>
<text x="1018.6" y="163.30" font-size="11.5" fill="#fff" textLength="38.6" lengthAdjust="spacingAndGlyphs">4572.93</text>
<rect x="1014" y="213.80" width="49" height="15.6" fill="#7fa5ae"/>
<text x="1018.6" y="225.90" font-size="11.5" fill="#fff" textLength="38.6" lengthAdjust="spacingAndGlyphs">4536.74</text>
</svg>
</body></html>
